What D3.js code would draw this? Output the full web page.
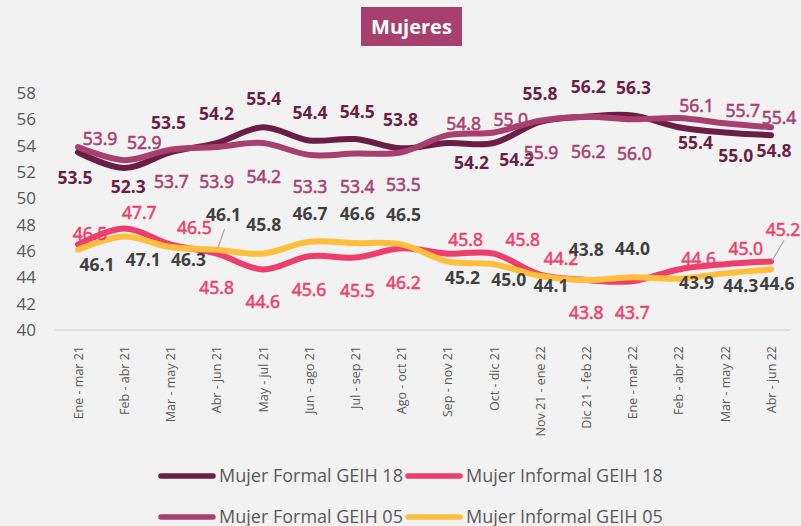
<!DOCTYPE html>
<html>
<head>
<meta charset="utf-8">
<script src="https://cdn.jsdelivr.net/npm/d3@7"></script>
<style>
  body { margin: 0; background: #F2F2F2; }
  svg { display: block; font-family: "Open Sans", "Noto Sans", sans-serif; }
</style>
</head>
<body>
<div id="chart"></div>
<script>
// data
var categories = ["Ene - mar 21", "Feb - abr 21", "Mar - may 21", "Abr - jun 21", "May - jul 21",
  "Jun - ago 21", "Jul - sep 21", "Ago - oct 21", "Sep - nov 21", "Oct - dic 21",
  "Nov 21 - ene 22", "Dic 21 - feb 22", "Ene - mar 22", "Feb - abr 22", "Mar - may 22", "Abr - jun 22"];
var formal18 = [53.5, 52.3, 53.5, 54.2, 55.4, 54.4, 54.5, 53.8, 54.2, 54.2, 55.8, 56.2, 56.3, 55.4, 55.0, 54.8];
var informal18 = [46.5, 47.7, 46.5, 45.8, 44.6, 45.6, 45.5, 46.2, 45.8, 45.8, 44.2, 43.8, 43.7, 44.6, 45.0, 45.2];
var formal05 = [53.9, 52.9, 53.7, 53.9, 54.2, 53.3, 53.4, 53.5, 54.8, 55.0, 55.9, 56.2, 56.0, 56.1, 55.7, 55.4];
var informal05 = [46.1, 47.1, 46.3, 46.1, 45.8, 46.7, 46.6, 46.5, 45.2, 45.0, 44.1, 43.8, 44.0, 43.9, 44.3, 44.6];
var yTicks = [40, 42, 44, 46, 48, 50, 52, 54, 56, 58];

// label offsets (layout only, dx/dy from the point)
var offF18 = [[-3,26],[4,19],[-2,-29],[0,-29],[1,-28],[1,-28],[2,-27],[-1,-28],[24,20],[23,17],[0,-28],[2,-30],[1,-28],[17,16],[11,23],[3,16]];
var offF05 = [[22,-8],[20,-17],[1,32],[0,35],[1,34],[1,32],[2,33],[2,33],[16,-11],[17,-13],[1,32],[2,35],[2,35],[18,-12],[18,-12],[8,-9]];
var offI18 = [[12,-11],[15,-16],[24,-17],[0,34],[0,32],[0,34],[2,33],[2,35],[18,-14],[29,-14],[21,-16],[0,33],[0,32],[20,-11],[21,-15],[12,-32]];
var offI05 = [[19,15],[19,23],[18,13],[7,-35],[1,-29],[1,-28],[2,-29],[2,-30],[15,16],[15,16],[11,10],[0,-30],[0,-28],[18,4],[16,12],[6,14]];

var series = [
  { name: "Mujer Formal GEIH 18", values: formal18, color: "#6A1E45", labelColor: "#6A1E45", bold: true, off: offF18 },
  { name: "Mujer Informal GEIH 18", values: informal18, color: "#EE3F6C", labelColor: "#EE3F6C", bold: false, off: offI18 },
  { name: "Mujer Formal GEIH 05", values: formal05, color: "#A8406F", labelColor: "#A8406F", bold: false, off: offF05 },
  { name: "Mujer Informal GEIH 05", values: informal05, color: "#FFBF3C", labelColor: "#404040", bold: true, off: offI05 }
];

var svgWidth = 801;
var svgHeight = 526;

var svg = d3.select("#chart")
  .append("svg")
  .attr("width", svgWidth)
  .attr("height", svgHeight);

svg.append("rect")
  .attr("width", svgWidth)
  .attr("height", svgHeight)
  .attr("fill", "#F2F2F2");

// title
svg.append("rect")
  .attr("x", 361).attr("y", 7)
  .attr("width", 101).attr("height", 39)
  .attr("fill", "#A8406F");
svg.append("text")
  .attr("x", 411.5).attr("y", 27)
  .attr("dy", "0.35em")
  .attr("text-anchor", "middle")
  .attr("fill", "white")
  .attr("font-size", 20)
  .attr("font-weight", 700)
  .text("Mujeres");

// scales
var x = d3.scalePoint().domain(categories).range([78, 771]);
var y = d3.scaleLinear().domain([40, 58]).range([330, 93]);

// y axis
var yAxis = svg.append("g")
  .attr("transform", "translate(36,0)")
  .call(d3.axisLeft(y).tickValues(yTicks).tickSize(0).tickPadding(0));
yAxis.select(".domain").remove();
yAxis.selectAll("text")
  .attr("font-family", "Open Sans, Noto Sans, sans-serif")
  .attr("font-size", 17)
  .attr("fill", "#595959");

// baseline
svg.append("line")
  .attr("x1", 55).attr("x2", 790)
  .attr("y1", y(40)).attr("y2", y(40))
  .attr("stroke", "#D9D9D9")
  .attr("stroke-width", 1.5);

// x axis
var xAxis = svg.append("g")
  .attr("transform", "translate(0,346)")
  .call(d3.axisBottom(x).tickSize(0).tickPadding(0));
xAxis.select(".domain").remove();
xAxis.selectAll("text")
  .attr("font-family", "Open Sans, Noto Sans, sans-serif")
  .attr("font-size", 12.5)
  .attr("fill", "#595959")
  .attr("text-anchor", "end")
  .attr("transform", "rotate(-90)")
  .attr("x", 0)
  .attr("y", 0)
  .attr("dx", 0)
  .attr("dy", "0.35em");

// lines
var line = d3.line()
  .x((d, i) => x(categories[i]))
  .y(d => y(d))
  .curve(d3.curveCatmullRom.alpha(0));

series.forEach(function(s) {
  svg.append("path")
    .datum(s.values)
    .attr("d", line)
    .attr("fill", "none")
    .attr("stroke", s.color)
    .attr("stroke-width", 6)
    .attr("stroke-linecap", "round");
});

// leader lines
svg.append("line")
  .attr("x1", x(categories[3]) + 1).attr("y1", y(informal05[3]) - 1)
  .attr("x2", x(categories[3]) + 8).attr("y2", y(informal05[3]) - 21)
  .attr("stroke", "#A6A6A6").attr("stroke-width", 1.2);
svg.append("line")
  .attr("x1", x(categories[15]) + 1).attr("y1", y(informal18[15]) - 1)
  .attr("x2", x(categories[15]) + 13).attr("y2", y(informal18[15]) - 21)
  .attr("stroke", "#A6A6A6").attr("stroke-width", 1.2);

// data labels
series.forEach(function(s) {
  svg.append("g")
    .selectAll("text")
    .data(s.values)
    .enter()
    .append("text")
    .attr("x", (d, i) => x(categories[i]) + s.off[i][0])
    .attr("y", (d, i) => y(d) + s.off[i][1])
    .attr("dy", "0.35em")
    .attr("text-anchor", "middle")
    .attr("font-size", 17.5)
    .attr("font-weight", s.bold ? 700 : 400)
    .attr("fill", s.labelColor)
    .attr("stroke", s.bold ? "none" : s.labelColor)
    .attr("stroke-width", s.bold ? 0 : 0.6)
    .text(d => d.toFixed(1));
});

// legend
var legendPos = [[158, 476], [405, 476], [158, 517], [405, 517]];
var legendOrder = [0, 1, 2, 3];
legendOrder.forEach(function(k, j) {
  var s = series[k];
  var p = legendPos[j];
  var g = svg.append("g").attr("transform", `translate(${p[0]},${p[1]})`);
  g.append("line")
    .attr("x1", 3).attr("x2", 55)
    .attr("y1", 0).attr("y2", 0)
    .attr("stroke", s.color)
    .attr("stroke-width", 5.5)
    .attr("stroke-linecap", "round");
  g.append("text")
    .attr("x", 61)
    .attr("dy", "0.35em")
    .attr("font-size", 18)
    .attr("fill", "#595959")
    .text(s.name);
});
</script>
</body>
</html>
